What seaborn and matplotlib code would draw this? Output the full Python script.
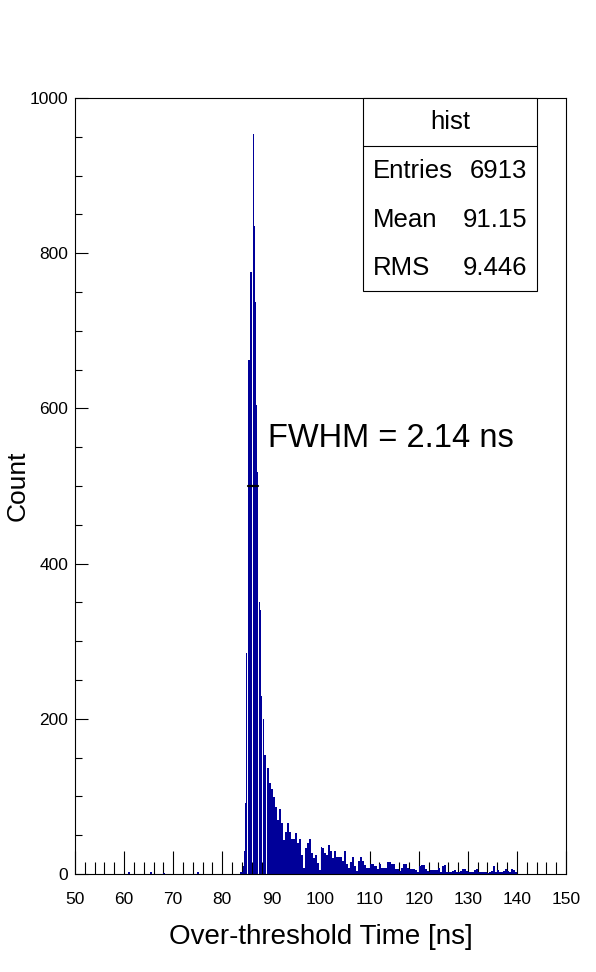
import numpy as np
import pandas as pd
import matplotlib
matplotlib.use("Agg")
import matplotlib.pyplot as plt
from matplotlib.patches import Rectangle
import seaborn as sns

# Histogram contents
peak_start = 84.0   # ns, fine binned core
peak_width = 0.2
peak_counts = [2, 10, 30, 92, 285, 0, 662, 662, 776, 776,
               0, 953, 835, 737, 604, 518, 0, 350, 340, 230,
               0, 200, 153, 153, 140, 0, 137, 137, 117, 117]

tail_start = 90.0   # ns, coarser binned tail
tail_width = 0.4
tail_near = [110, 99, 86, 70, 84, 66, 44, 54, 66, 54,
             45, 45, 53, 40, 45, 25, 8, 33, 40, 45,
             27, 21, 24, 14, 5, 35, 33, 27, 25, 37,
             30, 21, 30, 22, 22, 22, 17, 30, 13, 8,
             16, 22, 10, 4, 17, 22, 17, 12, 8, 8,
             13, 13, 10, 10, 7, 13, 8, 8, 8, 15,
             15, 13, 13, 7, 7, 4, 8, 13, 13, 8]
tail_far = [6, 6, 7, 5, 3, 10, 11, 11, 7, 4,
            3, 5, 5, 5, 5, 8, 3, 10, 11, 3,
            2, 3, 4, 5, 3, 2, 4, 7, 7, 4,
            2, 2, 3, 5, 7, 2, 3, 3, 2, 2,
            1, 3, 4, 10, 3, 5, 2, 3, 4, 7,
            4, 2, 7, 5, 2]

stray_times = [60.8, 65.3, 68.1, 75.0, 83.6]
stray_counts = [2, 2, 1, 2, 3]

fwhm_level = 500
fwhm_low = 85.2
fwhm_value = 2.14

stat_names = ["Entries", "Mean", "RMS"]
stat_values = ["6913", "91.15", "9.446"]

# build bins + weighted entries
tail_counts = tail_near + tail_far
peak_centers = peak_start + peak_width * (np.arange(len(peak_counts)) + 0.5)
tail_centers = tail_start + tail_width * (np.arange(len(tail_counts)) + 0.5)
tail_end = tail_start + tail_width * len(tail_counts)

edges = np.concatenate([
    np.linspace(50, peak_start, int(round((peak_start - 50) / 0.4)) + 1),
    peak_start + peak_width * np.arange(len(peak_counts) + 1),
    tail_start + tail_width * np.arange(len(tail_counts) + 1),
    np.linspace(tail_end, 150, int(round((150 - tail_end) / 0.4)) + 1),
])
edges = np.unique(np.round(edges, 4))

df = pd.DataFrame({
    "t": np.concatenate([peak_centers, tail_centers, stray_times]),
    "w": np.concatenate([peak_counts, tail_counts, stray_counts]).astype(float),
})

sns.set_style("ticks")
plt.rcParams["font.family"] = ["Liberation Sans", "DejaVu Sans"]
for k in ["text.color", "axes.labelcolor", "xtick.color", "ytick.color", "axes.edgecolor"]:
    plt.rcParams[k] = "black"

W, H = 596, 972
fig = plt.figure(figsize=(W / 100, H / 100), dpi=100)
ax = fig.add_axes([75 / W, 1 - 874 / H, (566 - 75) / W, (874 - 98) / H])

sns.histplot(data=df, x="t", weights="w", bins=list(edges), stat="count",
             color="#000099", alpha=1, linewidth=0, antialiased=False, ax=ax)

ax.plot([fwhm_low, fwhm_low + fwhm_value], [fwhm_level, fwhm_level],
        color="black", lw=1.6, zorder=4)
ax.text(89.3, 561, f"FWHM = {fwhm_value:.2f} ns", fontsize=23.5,
        ha="left", va="center")

ax.set_xlim(50, 150)
ax.set_ylim(0, 1000)
ax.set_xticks(np.arange(50, 151, 10))
ax.set_xticks(np.arange(50, 151, 2), minor=True)
ax.set_yticks(np.arange(0, 1001, 200))
ax.set_yticks(np.arange(0, 1001, 50), minor=True)
ax.tick_params(axis="x", which="major", direction="in", length=16.5, width=0.8,
               labelsize=12.5, pad=13)
ax.tick_params(axis="x", which="minor", direction="in", length=8.5, width=0.8)
ax.tick_params(axis="y", which="major", direction="in", length=9.5, width=0.8,
               labelsize=12.5, pad=5)
ax.tick_params(axis="y", which="minor", direction="in", length=5, width=0.8)
for s in ax.spines.values():
    s.set_visible(True)
    s.set_linewidth(0.8)
    s.set_color("black")

ax.set_xlabel("Over-threshold Time [ns]", fontsize=20)
ax.set_ylabel("Count", fontsize=19)
ax.xaxis.label.set_va("center")
ax.yaxis.label.set_va("center")
ax.xaxis.set_label_coords(0.5, (874 - 937) / 776)
ax.yaxis.set_label_coords((18 - 75) / 491, 0.5)

# stats box
bl, br, bt, bb = 363 / W, 537 / W, 1 - 98 / H, 1 - 291 / H
fig.add_artist(Rectangle((bl, bb), br - bl, bt - bb, transform=fig.transFigure,
                         facecolor="white", edgecolor="black", lw=0.8, zorder=5))
fig.add_artist(plt.Line2D([bl, br], [1 - 146 / H] * 2, transform=fig.transFigure,
                          color="black", lw=0.8, zorder=6))
fig.text(450 / W, 1 - 122 / H, "hist", ha="center", va="center", fontsize=18.5, zorder=7)
for i, (n, v) in enumerate(zip(stat_names, stat_values)):
    y = 1 - (171 + 48.5 * i) / H
    fig.text(373 / W, y, n, ha="left", va="center", fontsize=18.5, zorder=7)
    fig.text(527 / W, y, v, ha="right", va="center", fontsize=18.5, zorder=7)

fig.savefig("out.png", dpi=100)
